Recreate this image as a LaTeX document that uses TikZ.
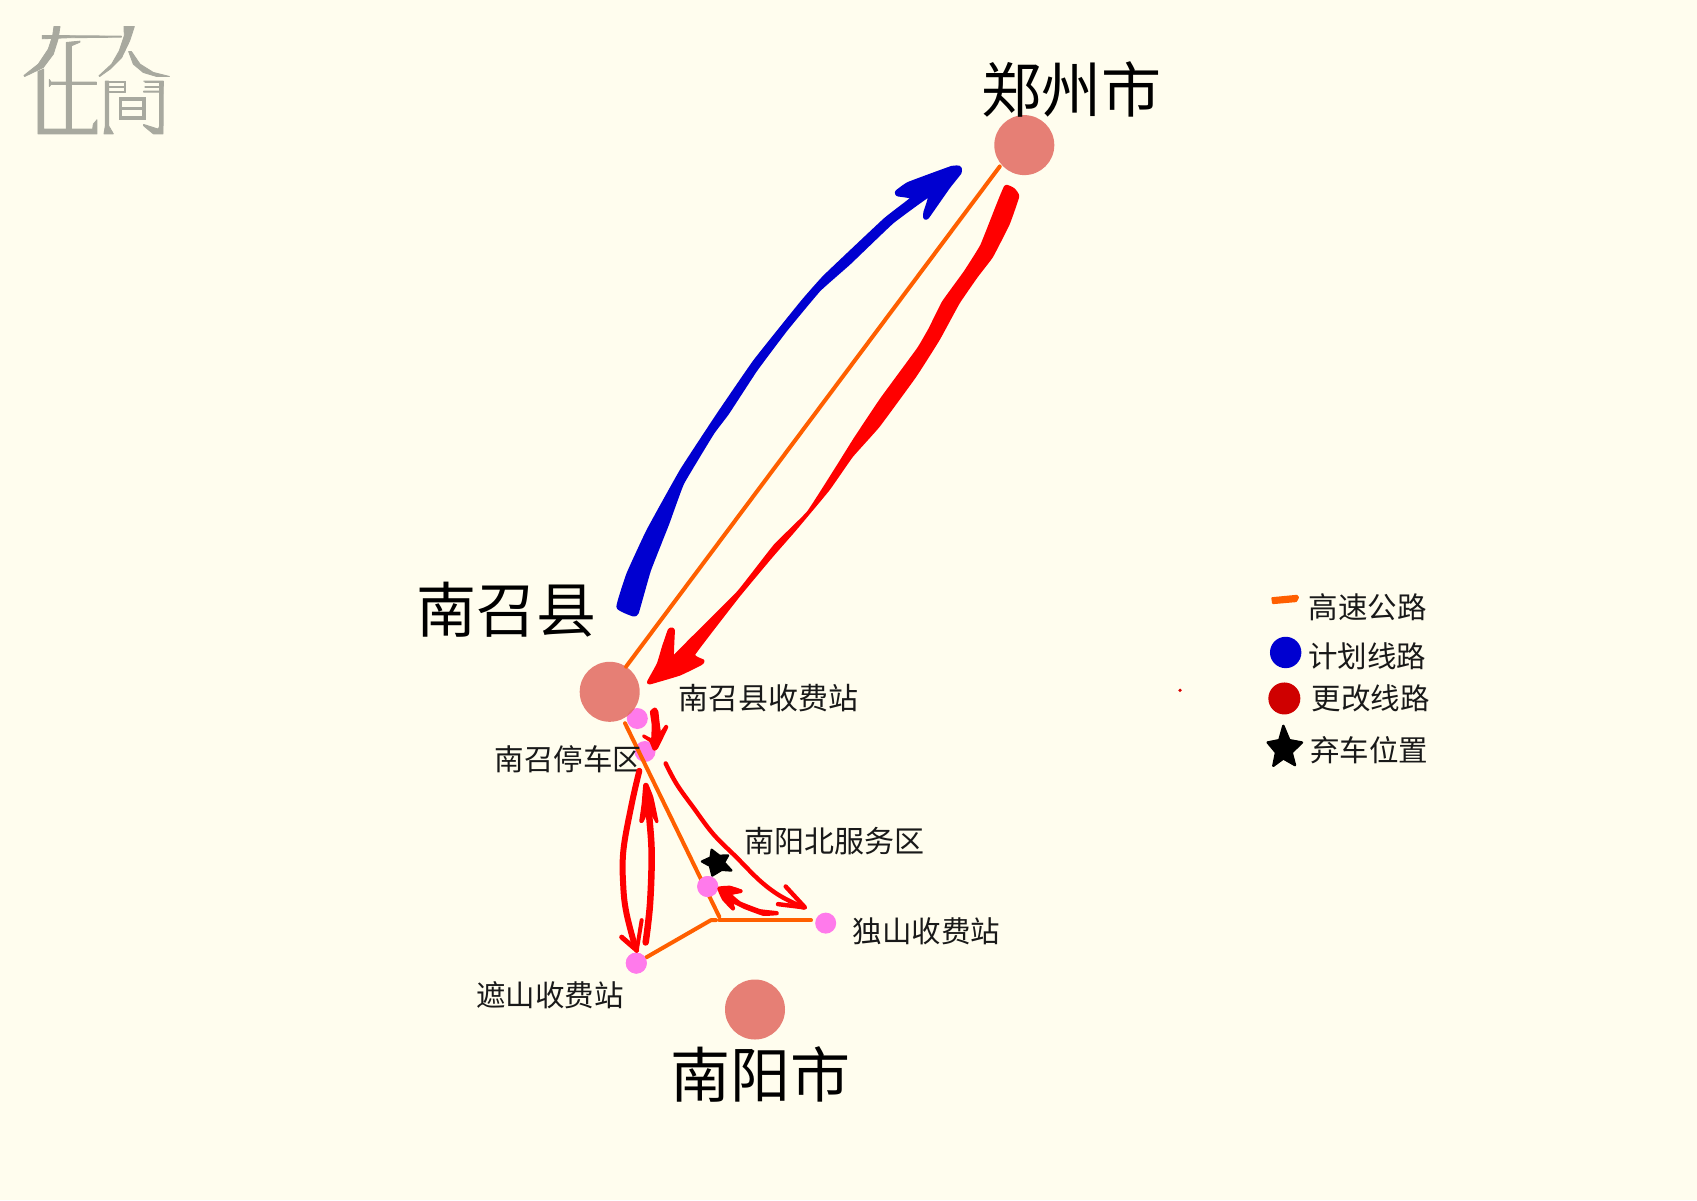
\documentclass[tikz,border=0pt]{standalone}
\usepackage{fontspec}
\newfontfamily\cjk{Noto Sans CJK SC}
\definecolor{paper}{HTML}{FFFDEE}
\definecolor{cityc}{HTML}{E26A60}
\definecolor{pinkc}{HTML}{FF7AEB}
\definecolor{roadc}{HTML}{FF5F00}
\definecolor{bluec}{HTML}{0000D0}
\definecolor{legred}{HTML}{CF0000}
\definecolor{logoc}{HTML}{A8A99F}
\tikzset{
  cityspot/.style={circle,fill=cityc,fill opacity=.85,minimum size=60pt,inner sep=0pt,outer sep=0pt},
  stopspot/.style={circle,fill=pinkc,minimum size=21pt,inner sep=0pt,outer sep=0pt},
  road/.style={draw=roadc,line width=4pt,line cap=round,line join=round},
  pen/.style={draw=red,line cap=round,line join=round},
  inkred/.style={fill=red,draw=red,line width=3.8pt,line join=round},
  inkredthin/.style={fill=red,draw=red,line width=2.8pt,line join=round},
  inkblue/.style={fill=bluec,draw=bluec,line width=4.6pt,line join=round},
  bigtxt/.style={font=\cjk\fontsize{60}{60}\selectfont,inner sep=0pt,text=black},
  smalltxt/.style={font=\cjk\fontsize{30}{30}\selectfont,inner sep=0pt,text=black!90},
  midtxt/.style={font=\cjk\fontsize{29.5}{30}\selectfont,inner sep=0pt,text=black!90},
  zoomA/.style={shift={(460,620)},scale=1/3},
  logofill/.style={fill=logoc,draw=logoc,line width=.9pt,line join=round}
}
\begin{document}
\begin{tikzpicture}[x=1pt,y=-1pt]
\useasboundingbox (0,-0.8) rectangle (1697,1199.2);
\fill[paper] (0,-0.8) rectangle (1697,1199.2);

% logo
\begin{scope}[scale=1/3]
\path[logofill] (162,77)--(180,77)--(174,115)--(160,160)--(130,200)--(74,227)--(72,224)--(115,190)--(145,145)--(158,105)--cycle;
\path[logofill] (127,104)--(364,106)--(364,109)--(200,111)--(127,114)--cycle;
\path[logofill] (199,125)--(240,121)--(240,124)--(214,135)--(214,385)--(199,385)--cycle;
\path[logofill] (114,212)--(131,205)--(131,385)--(278,385)--(280,370)--(291,357)--(291,399)--(114,399)--cycle;
\path[logofill] (148,236)--(153,244)--(289,244)--(289,251)--(153,251)--(148,257)--cycle;
\path[logofill] (372,77)--(403,77)--(389,120)--(365,170)--(330,205)--(299,227)--(297,225)--(335,190)--(358,150)--(373,105)--cycle;
\path[logofill] (386,152)--(394,152)--(420,190)--(460,215)--(508,227)--(470,227)--(430,215)--(400,190)--cycle;
\path[logofill] (316,241)--(326,241)--(326,375)--(340,399)--(312,399)--(316,375)--cycle;
\path[logofill] (327,241)--(377,241)--(377,274)--(327,274)--(327,271)--(374,271)--(374,260)--(327,260)--(327,257)--(374,257)--(374,244)--(327,244)--cycle;
\path[logofill] (431,241)--(490,241)--(489,399)--(460,399)--(431,375)--(431,371)--(475,385)--(479,375)--(479,274)--(431,274)--(431,271)--(479,271)--(479,260)--(435,260)--(435,257)--(479,257)--(479,245)--(435,245)--(435,241)--cycle;
\draw[logoc,line width=3.4pt] (362,295) rectangle (432,352);
\draw[logoc,line width=3.4pt] (362,323) -- (432,323);
\end{scope}

% named places
\node[stopspot] (st2) at (645,750.7) {};
\node[stopspot] (st1) at (637.3,717.7) {};
\coordinate (jA) at (719.3,916);
\coordinate (jB) at (719.3,919.3);
\coordinate (jC) at (711,919.3);
\coordinate (jD) at (716,919.3);
\node[stopspot] (sv) at (707.7,885.7) {};
\node[stopspot] (du) at (825.7,922.3) {};
\node[stopspot] (zs) at (636.3,962.3) {};
\node[cityspot] (zz) at (1024.3,144.3) {};
\node[cityspot] (nz) at (609.7,691) {};
\node[cityspot] (ny) at (755,1008.7) {};

% expressways
\draw[road,shorten <=2.6pt] (zz.220) -- (nz.57);
\draw[road,shorten <=5pt] (nz) -- (jA);
\draw[road,shorten >=14.7pt] (jB) -- (jB -| du);
\draw[road,shorten <=1pt] (zs) -- (jC) -- (jD);
\node[stopspot] at (sv) {};
\node[stopspot] at (zs) {};

% labels
\node[bigtxt] (lzz) at (1071.5,88.7) {郑州市};
\node[bigtxt] (lnz) at (506,609) {南召县};
\node[bigtxt] (lny) at (760.5,1074) {南阳市};
\node[smalltxt] (l1) at (768.6,697) {南召县收费站};
\node[midtxt] (l2) at (568.5,758.5) {南召停车区};
\node[smalltxt] (l3) at (834,840) {南阳北服务区};
\node[midtxt] (l4) at (926.5,930.5) {独山收费站};
\node[midtxt] (l5) at (550,994.6) {遮山收费站};

% blue hand-drawn arrow
\begin{scope}[shift={(600,140)},scale=1/3]
\path[inkblue] plot[smooth cycle,tension=.2] coordinates {(56,1398)(86,1300)(146,1170)(246,990)(356,822)(466,662)(606,487)(676,408)(856,238)(942,170)(894,160)(892,154)(926,130)(1056,82)(1078,82)(1078,95)(1044,138)(981,228)(976,228)(977,215)(992,158)(876,242)(746,366)(656,446)(556,566)(466,686)(381,816)(336,876)(246,1026)(201,1148)(146,1288)(110,1414)(100,1420)};
\end{scope}

% big red hand-drawn arrow
\begin{scope}[shift={(640,180)},scale=1/3]
\path[inkred] plot[smooth cycle,tension=.2] coordinates {(1098,18)(1120,27)(1132,47)(1104,128)(1054,226)(1009,285)(954,365)(894,475)(824,585)(714,735)(634,825)(564,925)(464,1045)(394,1125)(294,1245)(160,1420)(188,1441)(180,1449)(118,1479)(30,1505)(28,1501)(56,1450)(71,1400)(89,1348)(99,1348)(97,1432)(151,1380)(296,1235)(406,1095)(506,995)(596,855)(646,775)(726,655)(836,505)(871,445)(911,365)(976,275)(1026,195)(1076,69)};
\end{scope}

% small red arrow, toll station to stop area
\begin{scope}[shift={(610,700)},scale=1/3]
\path[inkredthin] plot[smooth cycle,tension=.2] coordinates {(124,33)(135,24)(141,33)(144,60)(150,100)(168,76)(170,80)(140,141)(132,145)(122,121)(101,107)(101,105)(127,117)(129,70)};
\end{scope}

% two red arrows between stop area and Zheshan
\begin{scope}[shift={(610,760)},scale=1/3]
\draw[pen,line width=6pt] plot[smooth,tension=.6] coordinates {(88,30)(65,130)(40,270)(40,380)(50,460)(76,560)};
\draw[pen,line width=5pt] (35,529) -- (80,568);
\draw[pen,line width=4pt] (80,570) -- (95,478);
\draw[pen,line width=6.5pt] plot[smooth,tension=.6] coordinates {(107,545)(120,430)(125,280)(118,170)(112,100)};
\path[inkredthin] plot[smooth cycle,tension=.2] coordinates {(104,72)(111,72)(126,110)(141,181)(139,181)(125,155)(112,150)(97,181)(92,181)(99,130)};
\end{scope}

% thin red arrow to Dushan
\begin{scope}[zoomA]
\draw[pen,line width=4.4pt] plot[smooth,tension=.6] coordinates {(617,428)(650,490)(700,560)(760,640)(830,710)(900,780)(960,825)(1030,860)};
\draw[pen,line width=4.4pt] (977,797) -- (1035,860) -- (954,850);
\end{scope}

% short red arrow back to service area
\begin{scope}[shift={(680,830)},scale=1/3]
\path[inkredthin] plot[smooth cycle,tension=.2] coordinates {(116,172)(150,169)(184,180)(181,183)(150,190)(180,216)(240,239)(291,245)(291,249)(250,251)(195,231)(155,212)(161,232)(158,235)(130,205)};
\fill[black,draw=black,line width=2.4pt,line join=round] (95,57)--(118,75)--(144,74)--(132,95)--(154,119)--(125,117)--(97,134)--(90,105)--(66,92)--(92,80)--cycle;
\end{scope}

% legend
\begin{scope}[shift={(1240,570)},scale=1/3]
\fill[roadc,draw=roadc,line width=2pt,line join=round] (97,82)--(170,75)--(174,80)--(168,91)--(99,97)--cycle;
\node[circle,fill=bluec,minimum size=31.4pt,inner sep=0pt] (kb) at (137,245) {};
\node[circle,fill=legred,minimum size=32pt,inner sep=0pt] (kr) at (133,383) {};
\fill[black,draw=black,line width=2.4pt,line join=round] (130,465)--(148,508)--(186,515)--(155,545)--(165,583)--(130,563)--(100,585)--(108,545)--(83,515)--(118,508)--cycle;
\end{scope}
\node[midtxt] (k1) at (1367.5,606.7) {高速公路};
\node[midtxt] (k2) at (1367,655) {计划线路};
\node[midtxt] (k3) at (1370.6,698) {更改线路};
\node[midtxt] (k4) at (1369,749) {弃车位置};

% stray speck
\fill[red!85!black] (1180,689.5) circle (1.8pt);
\end{tikzpicture}
\end{document}
